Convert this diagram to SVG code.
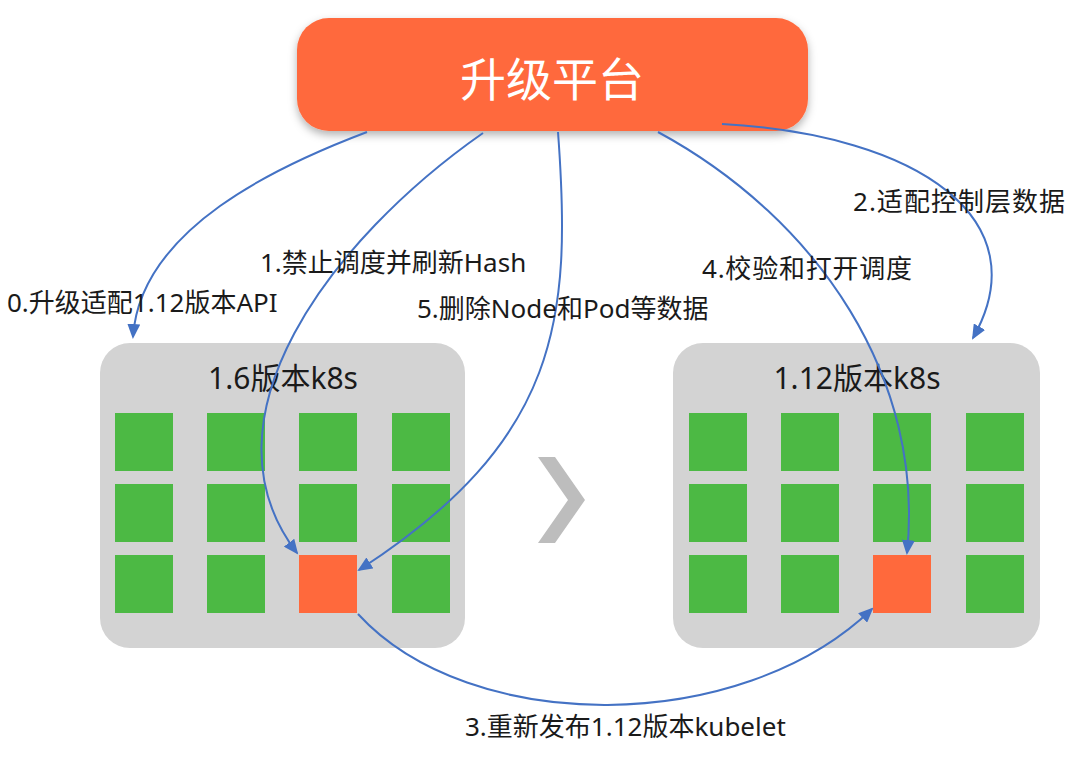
<svg xmlns="http://www.w3.org/2000/svg" width="1080" height="760" viewBox="0 0 1080 760">
<defs>
<style>
.lbl{font-family:"Noto Sans","Noto Sans CJK SC",sans-serif;font-size:26px;fill:#1a1a1a}
.ttl{font-family:"Noto Sans","Noto Sans CJK SC",sans-serif;font-size:30px;fill:#1a1a1a;text-anchor:middle}
.panel{fill:#d3d3d3}
.g{fill:#4cb944}
.o{fill:#ff693c}
.c{fill:none;stroke:#4472c4;stroke-width:2}
</style>
<filter id="sh" x="-10%" y="-20%" width="120%" height="150%">
<feDropShadow dx="0" dy="4" stdDeviation="4" flood-color="#000" flood-opacity="0.3"/>
</filter>
<marker id="ah" markerUnits="userSpaceOnUse" markerWidth="15" markerHeight="13" refX="13" refY="6.5" orient="auto">
<path d="M0,0 L15,6.5 L0,13 z" fill="#4472c4"/>
</marker>
</defs>
<rect width="1080" height="760" fill="#fff"/>

<g id="platform">
<rect x="297" y="18" width="511" height="113" rx="32" fill="#ff693c" filter="url(#sh)"/>
<text x="552" y="96" font-family="'Noto Sans','Noto Sans CJK SC',sans-serif" font-size="46" fill="#fff" text-anchor="middle">升级平台</text>
</g>

<g id="k8s-old">
<rect class="panel" x="100" y="343" width="365" height="305" rx="30"/>
<text class="ttl" x="283" y="389">1.6版本k8s</text>
<rect class="g" x="115" y="413" width="58" height="58"/>
<rect class="g" x="207" y="413" width="58" height="58"/>
<rect class="g" x="299" y="413" width="58" height="58"/>
<rect class="g" x="392" y="413" width="58" height="58"/>
<rect class="g" x="115" y="484" width="58" height="58"/>
<rect class="g" x="207" y="484" width="58" height="58"/>
<rect class="g" x="299" y="484" width="58" height="58"/>
<rect class="g" x="392" y="484" width="58" height="58"/>
<rect class="g" x="115" y="555" width="58" height="58"/>
<rect class="g" x="207" y="555" width="58" height="58"/>
<rect id="old-node" class="o" x="299" y="555" width="58" height="58"/>
<rect class="g" x="392" y="555" width="58" height="58"/>
</g>

<g id="k8s-new">
<rect class="panel" x="673" y="343" width="367" height="305" rx="30"/>
<text class="ttl" x="857" y="389">1.12版本k8s</text>
<rect class="g" x="689" y="413" width="58" height="58"/>
<rect class="g" x="781" y="413" width="58" height="58"/>
<rect class="g" x="873" y="413" width="58" height="58"/>
<rect class="g" x="966" y="413" width="58" height="58"/>
<rect class="g" x="689" y="484" width="58" height="58"/>
<rect class="g" x="781" y="484" width="58" height="58"/>
<rect class="g" x="873" y="484" width="58" height="58"/>
<rect class="g" x="966" y="484" width="58" height="58"/>
<rect class="g" x="689" y="555" width="58" height="58"/>
<rect class="g" x="781" y="555" width="58" height="58"/>
<rect id="new-node" class="o" x="873" y="555" width="58" height="58"/>
<rect class="g" x="966" y="555" width="58" height="58"/>
</g>

<g id="chevron">
<polygon points="538,457 555,457 585,500 555,543 538,543 568,500" fill="#bdbdbd"/>
</g>

<g id="connectors">
<path class="c" marker-end="url(#ah)" d="M367,132 C280,165 140,228 133,337"/>
<path class="c" marker-end="url(#ah)" d="M483,133 C330,240 195,420 297,553"/>
<path class="c" marker-end="url(#ah)" d="M722,124 C920,135 1040,220 973,338"/>
<path class="c" marker-end="url(#ah)" d="M358,614 C470,736 740,736 872,609"/>
<path class="c" marker-end="url(#ah)" d="M658,132 C820,220 925,380 907,553"/>
<path class="c" marker-end="url(#ah)" d="M558,132 C572,320 560,440 359,570"/>
</g>

<g id="labels">
<text class="lbl" x="7" y="312">0.升级适配1.12版本API</text>
<text class="lbl" x="260" y="272">1.禁止调度并刷新Hash</text>
<text class="lbl" x="853" y="211" textLength="212" lengthAdjust="spacing">2.适配控制层数据</text>
<text class="lbl" x="465" y="736">3.重新发布1.12版本kubelet</text>
<text class="lbl" x="702" y="278" textLength="210" lengthAdjust="spacing">4.校验和打开调度</text>
<text class="lbl" x="417" y="318">5.删除Node和Pod等数据</text>
</g>
</svg>
